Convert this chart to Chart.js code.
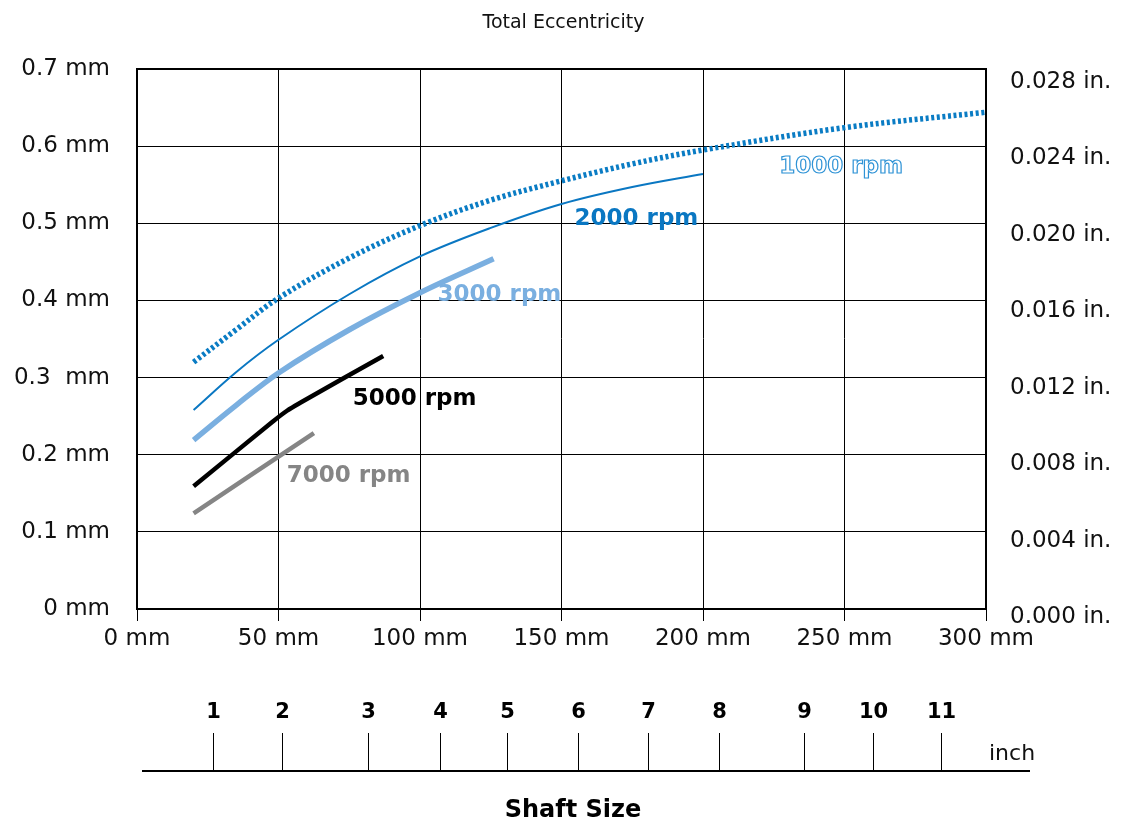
<!DOCTYPE html>
<html>
<head>
<meta charset="utf-8">
<title>Total Eccentricity</title>
<script src="https://cdn.jsdelivr.net/npm/chart.js@4.4.1/dist/chart.umd.min.js"></script>
<style>
    body { margin: 0; background: #fff; }
    #wrap { width: 1127px; height: 821px; }
</style>
</head>
<body>
<div id="wrap"><canvas id="eccChart" width="1127" height="821"></canvas></div>
<script>
// shaft size (mm) and total eccentricity (mm) per speed
const rpm1000Mm  = [20, 35, 50, 75, 100, 125, 150, 175, 200, 250, 300];
const rpm1000Ecc = [0.320, 0.362, 0.403, 0.455, 0.497, 0.530, 0.555, 0.577, 0.595, 0.624, 0.644];
const rpm2000Mm  = [20, 35, 50, 75, 100, 125, 150, 175, 200];
const rpm2000Ecc = [0.258, 0.307, 0.349, 0.408, 0.457, 0.494, 0.525, 0.547, 0.564];
const rpm3000Mm  = [20, 35, 50, 75, 100, 126];
const rpm3000Ecc = [0.219, 0.264, 0.306, 0.362, 0.410, 0.454];
const rpm5000Mm  = [20, 48, 53, 58, 87];
const rpm5000Ecc = [0.159, 0.243, 0.257, 0.268, 0.328];
const rpm7000Mm  = [20, 62.5];
const rpm7000Ecc = [0.124, 0.228];

const seriesNames = ['1000 rpm', '2000 rpm', '3000 rpm', '5000 rpm', '7000 rpm'];

// axis tick labels
const yTickLabels = ['0 mm', '0.1 mm', '0.2 mm', '0.3  mm', '0.4 mm', '0.5 mm', '0.6 mm', '0.7 mm'];
const inchTickValues = [0, 0.004, 0.008, 0.012, 0.016, 0.020, 0.024, 0.028];

// shaft size ruler (inch marks placed on the mm scale)
const inchLabels = ['1', '2', '3', '4', '5', '6', '7', '8', '9', '10', '11'];
const inchMarksMm = [26.8, 51.2, 81.5, 106.9, 130.6, 156.0, 180.7, 205.8, 235.8, 260.2, 284.2];

// where the series names sit, in chart units (mm, mm)
const labelAnchorMm  = [226.9, 154.6, 106.2, 76.2, 52.9];
const labelAnchorEcc = [0.565, 0.498, 0.399, 0.2645, 0.1646];

const toPoints = (xs, ys) => xs.map((x, i) => ({ x: x, y: ys[i] }));

const FONT = '"DejaVu Sans", Verdana, sans-serif';
const labelColors = ['#2f93d6', '#0a77c2', '#7aafe0', '#000000', '#858585'];

// series names next to the curves
const curveLabels = {
    id: 'curveLabels',
    afterDatasetsDraw(chart) {
        const ctx = chart.ctx;
        const xs = chart.scales.x, ys = chart.scales.y;
        ctx.save();
        ctx.font = 'bold 23px ' + FONT;
        ctx.textAlign = 'left';
        ctx.textBaseline = 'alphabetic';
        seriesNames.forEach((name, i) => {
            const px = xs.getPixelForValue(labelAnchorMm[i]);
            const py = ys.getPixelForValue(labelAnchorEcc[i]);
            if (i === 0) {
                // outlined text for 1000 rpm
                ctx.fillStyle = '#ffffff';
                ctx.fillText(name, px, py);
                ctx.lineWidth = 1.2;
                ctx.strokeStyle = labelColors[i];
                ctx.strokeText(name, px, py);
            } else {
                ctx.fillStyle = labelColors[i];
                ctx.fillText(name, px, py);
            }
        });
        ctx.restore();
    }
};

// inch ruler under the chart
const shaftRuler = {
    id: 'shaftRuler',
    afterDraw(chart) {
        const ctx = chart.ctx;
        const xs = chart.scales.x;
        const lineY = 771;
        ctx.save();
        ctx.strokeStyle = '#000';
        ctx.lineWidth = 2;
        ctx.beginPath();
        ctx.moveTo(142, lineY);
        ctx.lineTo(1030, lineY);
        ctx.stroke();

        ctx.lineWidth = 1;
        ctx.fillStyle = '#000';
        ctx.font = 'bold 21px ' + FONT;
        ctx.textAlign = 'center';
        ctx.textBaseline = 'alphabetic';
        inchMarksMm.forEach((mm, i) => {
            const px = Math.round(xs.getPixelForValue(mm)) + 0.5;
            ctx.beginPath();
            ctx.moveTo(px, 733);
            ctx.lineTo(px, lineY);
            ctx.stroke();
            ctx.fillText(inchLabels[i], px, 718);
        });

        ctx.font = '22px ' + FONT;
        ctx.textAlign = 'left';
        ctx.fillStyle = '#111';
        ctx.fillText('inch', 989, 760);

        ctx.font = 'bold 24px ' + FONT;
        ctx.textAlign = 'center';
        ctx.fillStyle = '#000';
        ctx.fillText('Shaft Size', 573, 817);
        ctx.restore();
    }
};

const ctxEcc = document.getElementById('eccChart').getContext('2d');
new Chart(ctxEcc, {
    type: 'line',
    data: {
        datasets: [
            {
                label: seriesNames[0],
                data: toPoints(rpm1000Mm, rpm1000Ecc),
                borderColor: '#0a7cc4',
                borderWidth: 5.5,
                borderDash: [3, 2.6]
            },
            {
                label: seriesNames[1],
                data: toPoints(rpm2000Mm, rpm2000Ecc),
                borderColor: '#0a77c2',
                borderWidth: 2
            },
            {
                label: seriesNames[2],
                data: toPoints(rpm3000Mm, rpm3000Ecc),
                borderColor: '#7aafe0',
                borderWidth: 5.5
            },
            {
                label: seriesNames[3],
                data: toPoints(rpm5000Mm, rpm5000Ecc),
                borderColor: '#000000',
                borderWidth: 4.5
            },
            {
                label: seriesNames[4],
                data: toPoints(rpm7000Mm, rpm7000Ecc),
                borderColor: '#858585',
                borderWidth: 4.5
            }
        ]
    },
    options: {
        responsive: false,
        animation: false,
        elements: {
            point: { radius: 0, hoverRadius: 0 },
            line: { tension: 0.35 }
        },
        plugins: {
            legend: { display: false },
            tooltip: { enabled: false },
            title: {
                display: true,
                text: 'Total Eccentricity',
                color: '#111',
                font: { family: FONT, size: 19, weight: 'normal' },
                padding: { top: 12, bottom: 34.2 }
            }
        },
        scales: {
            x: {
                type: 'linear',
                min: 0,
                max: 300,
                ticks: {
                    stepSize: 50,
                    color: '#111',
                    padding: 4,
                    maxRotation: 0,
                    font: { family: FONT, size: 23 },
                    callback: v => v + ' mm'
                },
                grid: { color: '#000', lineWidth: 1, tickLength: 12 },
                border: { display: true, color: '#000', width: 2 },
                afterFit: scale => { scale.height = 212; }
            },
            y: {
                position: 'left',
                min: 0,
                max: 0.7,
                ticks: {
                    stepSize: 0.1,
                    color: '#111',
                    padding: 27,
                    font: { family: FONT, size: 23 },
                    callback: (v, i) => yTickLabels[i]
                },
                grid: {
                    color: '#000',
                    lineWidth: c => (c.index === 7 ? 2 : 1),
                    drawTicks: false
                },
                border: { display: true, color: '#000', width: 2 },
                afterFit: scale => { scale.width = 137; }
            },
            y2: {
                position: 'right',
                min: 0.000419,
                max: 0.02868,
                afterBuildTicks: scale => {
                    scale.ticks = inchTickValues.map(v => ({ value: v }));
                },
                ticks: {
                    color: '#111',
                    padding: 24,
                    font: { family: FONT, size: 23 },
                    callback: v => v.toFixed(3) + ' in.'
                },
                grid: { display: false, drawTicks: false },
                border: { display: true, color: '#000', width: 2 },
                afterFit: scale => { scale.width = 141; }
            }
        }
    },
    plugins: [curveLabels, shaftRuler]
});
</script>
</body>
</html>
